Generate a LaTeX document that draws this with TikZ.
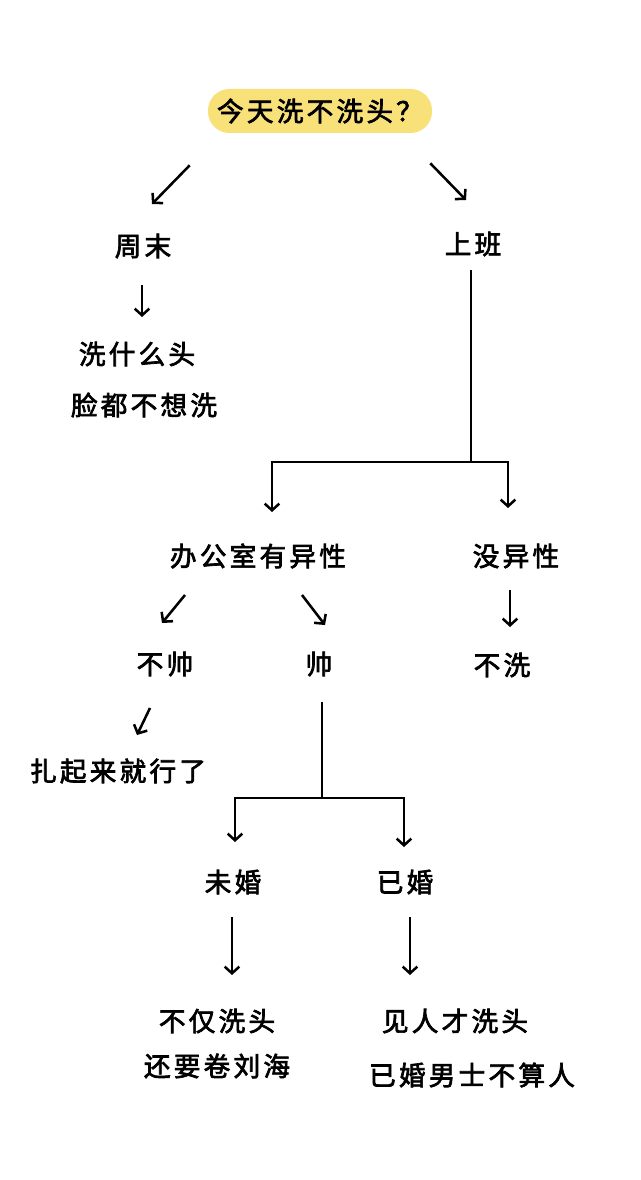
\documentclass[tikz,border=0pt]{standalone}
\usepackage{fontspec}
\newfontfamily\cjkfont[LetterSpace=12,FakeBold=2.6]{Noto Sans CJK SC}
\usetikzlibrary{arrows.meta}
\definecolor{pillyellow}{RGB}{249,225,122}

\begin{document}
\begin{tikzpicture}[x=0.75pt,y=-0.75pt,
     txt/.style={font=\cjkfont\fontsize{20pt}{24pt}\selectfont,inner sep=0pt},
     pill/.style={txt,fill=pillyellow,rounded corners=16pt,
       minimum width=168pt,minimum height=33pt},
     ln/.style={line width=1.9pt},
     arr/.style={ln,-{Straight Barb[length=5pt,width=11pt,line width=1.9pt]}}]
    \useasboundingbox[fill=white] (0,0) rectangle (640,1180);
    % question
    \node[pill] (title) at (320,111) {今天洗不洗头？};
    % first level
    \node[txt] (zhoumo) at (143,246) {周末};
    \node[txt] (shangban) at (473,244) {上班};
    \node[txt] (xishenme) at (137,354) {洗什么头};
    \node[txt] (lian) at (144,405) {脸都不想洗};
    % office
    \node[txt] (bangong) at (258,556) {办公室有异性};
    \node[txt] (meiyi) at (516,556) {没异性};
    \node[txt] (bushuai) at (165,664) {不帅};
    \node[txt] (shuai) at (319,664) {帅};
    \node[txt] (buxi) at (502,665) {不洗};
    \node[txt] (zhaqi) at (118,771) {扎起来就行了};
    % married or not
    \node[txt] (weihun) at (233,882) {未婚};
    \node[txt] (yihun) at (405,882) {已婚};
    \node[txt] (bujin) at (217,1021) {不仅洗头};
    \node[txt] (haiyao) at (217,1066) {还要卷刘海};
    \node[txt] (jianren) at (455,1021) {见人才洗头};
    \node[txt] (yihunnan) at (472,1075) {已婚男士不算人};
    \coordinate (fork1) at (471,462);
    \coordinate (fork2) at (322,798);
    % arrows
    \draw[arr] ([shift={(-18,32)}]title.south west) -- ([shift={(9,-42)}]zhoumo.center);
    \draw[arr] ([shift={(-2,30)}]title.south east) -- ([shift={(-7,-44)}]shangban.center);
    \draw[arr] ([shift={(-1,39)}]zhoumo.center) -- ([shift={(5,-37)}]xishenme.center);
    \draw[ln] ([shift={(-2,26)}]shangban.center) -- (fork1);
    \draw[arr] (fork1) -| ([shift={(14,-44)}]bangong.center);
    \draw[arr] (fork1) -| ([shift={(-8,-48)}]meiyi.center);
    \draw[arr] ([shift={(-73,39)}]bangong.center) -- ([shift={(-3,-41)}]bushuai.center);
    \draw[arr] ([shift={(44,39)}]bangong.center) -- ([shift={(6,-39)}]shuai.center);
    \draw[arr] ([shift={(-6,34)}]meiyi.center) -- ([shift={(8,-38)}]buxi.center);
    \draw[arr] ([shift={(-15,44)}]bushuai.center) -- ([shift={(19,-36)}]zhaqi.center);
    \draw[ln] ([shift={(3,38)}]shuai.center) -- (fork2);
    \draw[arr] (fork2) -| ([shift={(2,-40)}]weihun.center);
    \draw[arr] (fork2) -| ([shift={(-1,-35)}]yihun.center);
    \draw[arr] ([shift={(-1,35)}]weihun.center) -- ([shift={(15,-46)}]bujin.center);
    \draw[arr] ([shift={(5,35)}]yihun.center) -- ([shift={(-45,-46)}]jianren.center);
\end{tikzpicture}
\end{document}
